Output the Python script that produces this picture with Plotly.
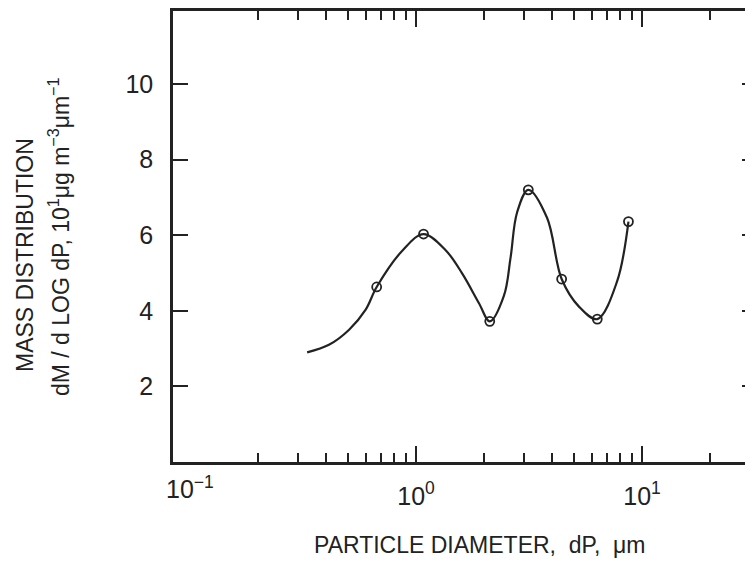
import plotly.graph_objects as go

# ---- data ----
# measured points (open circles)
point_dp = [0.67, 1.08, 2.12, 3.14, 4.41, 6.34, 8.71]
point_mass = [4.63, 6.03, 3.72, 7.20, 4.84, 3.78, 6.36]

# smooth curve traced through the points
curve_dp = [0.330, 0.412, 0.506, 0.599, 0.67, 0.876, 1.08, 1.35, 1.60, 1.90, 2.12,
            2.45, 2.62, 2.80, 3.14, 3.80, 4.41, 5.26, 6.34, 7.75, 8.71]
curve_mass = [2.90, 3.10, 3.50, 4.03, 4.63, 5.61, 6.03, 5.61, 4.99, 4.20, 3.72,
              4.40, 5.40, 6.60, 7.20, 6.46, 4.84, 4.11, 3.78, 4.77, 6.36]

# axis ticks
x_major_vals = [1, 10]
x_major_text = ["10<sup>0</sup>", "10<sup>1</sup>"]
x_first_val = [0.1]
x_first_text = ["10<sup>\u22121</sup>"]
x_minor_vals = [0.2, 0.3, 0.4, 0.5, 0.6, 0.7, 0.8, 0.9,
                2, 3, 4, 5, 6, 7, 8, 9, 20]
y_tick_vals = [2, 4, 6, 8, 10]
y_tick_text = ["2", "4", "6", "8", "10"]

INK = "#222222"
FONT = "Liberation Sans, Arial, Helvetica, sans-serif"

OFF = 8  # page body margin
W, H = 753 - OFF, 561 - OFF
L, R, T, B = 173 - OFF, 0, 11 - OFF, 99
x_range = [-1.075, 1.491]
y_range = [0, 11.93]

fig = go.Figure()
fig.add_trace(go.Scatter(
    x=curve_dp, y=curve_mass, mode="lines",
    line=dict(color=INK, width=2.2, shape="spline", smoothing=1.0),
    hoverinfo="skip", showlegend=False))
fig.add_trace(go.Scatter(
    x=point_dp, y=point_mass, mode="markers",
    marker=dict(symbol="circle-open", size=9, color=INK, line=dict(width=1.8, color=INK)),
    showlegend=False))
# helper traces so overlay axes get drawn
fig.add_trace(go.Scatter(x=[None], y=[None], xaxis="x2", yaxis="y", showlegend=False, hoverinfo="skip"))
fig.add_trace(go.Scatter(x=[None], y=[None], xaxis="x", yaxis="y2", showlegend=False, hoverinfo="skip"))

fig.update_layout(
    width=W, height=H,
    margin=dict(l=L, r=R, t=T, b=B, pad=0),
    paper_bgcolor="white", plot_bgcolor="white",
    font=dict(family=FONT, color=INK),
    xaxis=dict(
        type="log", range=x_range, showgrid=False, zeroline=False,
        showline=True, linecolor=INK, linewidth=2.5, mirror="ticks",
        tickmode="array", tickvals=x_major_vals, ticktext=x_major_text,
        ticks="inside", ticklen=16, tickwidth=2, tickcolor=INK,
        tickfont=dict(size=25, family=FONT, color=INK),
        ticklabelstandoff=10,
        minor=dict(tickmode="array", tickvals=x_minor_vals, ticks="inside",
                   ticklen=9, tickwidth=2, tickcolor=INK, showgrid=False),
    ),
    xaxis2=dict(
        type="log", range=x_range, overlaying="x", anchor="y", side="bottom",
        showgrid=False, zeroline=False, showline=False,
        tickmode="array", tickvals=x_first_val, ticktext=x_first_text,
        ticks="", tickfont=dict(size=25, family=FONT, color=INK),
        ticklabelstandoff=10,
    ),
    yaxis=dict(
        range=y_range, showgrid=False, zeroline=False,
        showline=True, linecolor=INK, linewidth=2.5,
        tickmode="array", tickvals=y_tick_vals, ticktext=y_tick_text,
        ticks="inside", ticklen=15, tickwidth=2, tickcolor=INK,
        tickfont=dict(size=25, family=FONT, color=INK),
        ticklabelstandoff=12,
    ),
    yaxis2=dict(
        range=y_range, overlaying="y", anchor="x", side="right",
        showgrid=False, zeroline=False, showline=False,
        tickmode="array", tickvals=y_tick_vals, showticklabels=False,
        ticks="inside", ticklen=11, tickwidth=2, tickcolor=INK,
    ),
)

pw, ph = W - L - R, H - T - B
def px(xp):
    return (xp - OFF - L) / pw
def py(yp):
    return (H - B - (yp - OFF)) / ph

fig.add_annotation(text="MASS DISTRIBUTION", x=px(25), y=py(255), xref="paper", yref="paper",
                   textangle=-90, showarrow=False, xanchor="center", yanchor="middle",
                   font=dict(size=23, family=FONT, color=INK))
fig.add_annotation(text="dM / d LOG dP, 10<sup>1</sup>\u03bcg m<sup>\u22123</sup>\u03bcm<sup>\u22121</sup>",
                   x=px(59), y=py(237), xref="paper", yref="paper",
                   textangle=-90, showarrow=False, xanchor="center", yanchor="middle",
                   font=dict(size=23, family=FONT, color=INK))
fig.add_annotation(text="PARTICLE DIAMETER,\u00a0 dP,\u00a0 \u03bcm", x=px(480), y=py(545), xref="paper", yref="paper",
                   showarrow=False, xanchor="center", yanchor="middle",
                   font=dict(size=23, family=FONT, color=INK))

fig.write_html("out.html")
